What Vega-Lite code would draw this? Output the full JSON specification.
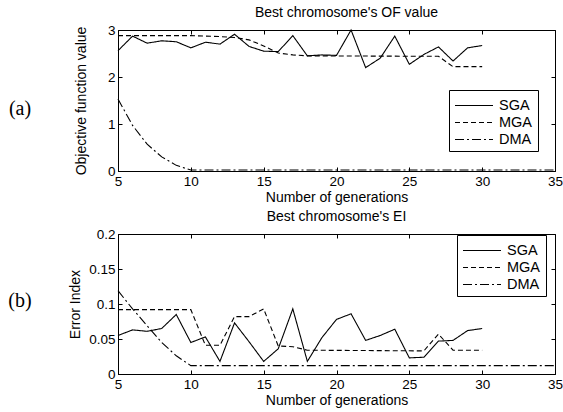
{
  "$schema": "https://vega.github.io/schema/vega-lite/v6.json",
  "padding": 5,
  "config": {
    "font": "Liberation Sans",
    "view": {"stroke": "black", "strokeWidth": 1},
    "axis": {
      "grid": false,
      "domainColor": "black",
      "tickColor": "black",
      "labelColor": "black",
      "titleColor": "black",
      "labelFont": "Liberation Sans",
      "titleFont": "Liberation Sans",
      "labelFontSize": 13.5,
      "titleFontSize": 14,
      "titleFontWeight": "normal",
      "tickSize": -4,
      "labelPadding": 7,
      "labelFlush": false
    },
    "title": {"font": "Liberation Sans", "fontSize": 14, "fontWeight": "normal", "color": "black", "frame": "group", "offset": 3},
    "legend": {
      "orient": "none",
      "symbolType": "M-1,0H3",
      "symbolSize": 361,
      "symbolStrokeWidth": 1.1,
      "symbolStrokeColor": "black",
      "symbolFillColor": "transparent",
      "labelFont": "Liberation Sans",
      "labelFontSize": 14.5,
      "labelColor": "black",
      "labelOffset": 24,
      "strokeColor": "black",
      "fillColor": "white",
      "padding": 5,
      "rowPadding": -2
    }
  },
  "datasets": {
    "of": [
      {"gen": 5, "method": "SGA", "value": 2.56}, {"gen": 6, "method": "SGA", "value": 2.87}, {"gen": 7, "method": "SGA", "value": 2.72},
      {"gen": 8, "method": "SGA", "value": 2.77}, {"gen": 9, "method": "SGA", "value": 2.75}, {"gen": 10, "method": "SGA", "value": 2.62},
      {"gen": 11, "method": "SGA", "value": 2.74}, {"gen": 12, "method": "SGA", "value": 2.7}, {"gen": 13, "method": "SGA", "value": 2.91},
      {"gen": 14, "method": "SGA", "value": 2.65}, {"gen": 15, "method": "SGA", "value": 2.55}, {"gen": 16, "method": "SGA", "value": 2.54},
      {"gen": 17, "method": "SGA", "value": 2.88}, {"gen": 18, "method": "SGA", "value": 2.45}, {"gen": 19, "method": "SGA", "value": 2.47},
      {"gen": 20, "method": "SGA", "value": 2.46}, {"gen": 21, "method": "SGA", "value": 3.0}, {"gen": 22, "method": "SGA", "value": 2.2},
      {"gen": 23, "method": "SGA", "value": 2.4}, {"gen": 24, "method": "SGA", "value": 2.87}, {"gen": 25, "method": "SGA", "value": 2.27},
      {"gen": 26, "method": "SGA", "value": 2.48}, {"gen": 27, "method": "SGA", "value": 2.64}, {"gen": 28, "method": "SGA", "value": 2.34},
      {"gen": 29, "method": "SGA", "value": 2.62}, {"gen": 30, "method": "SGA", "value": 2.67},
      {"gen": 5, "method": "MGA", "value": 2.88}, {"gen": 10, "method": "MGA", "value": 2.88}, {"gen": 11, "method": "MGA", "value": 2.87},
      {"gen": 12, "method": "MGA", "value": 2.86}, {"gen": 13, "method": "MGA", "value": 2.84}, {"gen": 14, "method": "MGA", "value": 2.79},
      {"gen": 15, "method": "MGA", "value": 2.66}, {"gen": 16, "method": "MGA", "value": 2.51}, {"gen": 17, "method": "MGA", "value": 2.47},
      {"gen": 18, "method": "MGA", "value": 2.45}, {"gen": 27, "method": "MGA", "value": 2.44}, {"gen": 28, "method": "MGA", "value": 2.22},
      {"gen": 29, "method": "MGA", "value": 2.22}, {"gen": 30, "method": "MGA", "value": 2.22},
      {"gen": 5, "method": "DMA", "value": 1.53}, {"gen": 6, "method": "DMA", "value": 0.97}, {"gen": 7, "method": "DMA", "value": 0.57},
      {"gen": 8, "method": "DMA", "value": 0.3}, {"gen": 9, "method": "DMA", "value": 0.12}, {"gen": 10, "method": "DMA", "value": 0.02},
      {"gen": 15, "method": "DMA", "value": 0.02}, {"gen": 20, "method": "DMA", "value": 0.02}, {"gen": 25, "method": "DMA", "value": 0.02},
      {"gen": 30, "method": "DMA", "value": 0.02}, {"gen": 35, "method": "DMA", "value": 0.02}
    ],
    "ei": [
      {"gen": 5, "method": "SGA", "value": 0.055}, {"gen": 6, "method": "SGA", "value": 0.063}, {"gen": 7, "method": "SGA", "value": 0.061},
      {"gen": 8, "method": "SGA", "value": 0.065}, {"gen": 9, "method": "SGA", "value": 0.085}, {"gen": 10, "method": "SGA", "value": 0.045},
      {"gen": 11, "method": "SGA", "value": 0.053}, {"gen": 12, "method": "SGA", "value": 0.018}, {"gen": 13, "method": "SGA", "value": 0.073},
      {"gen": 14, "method": "SGA", "value": 0.046}, {"gen": 15, "method": "SGA", "value": 0.018}, {"gen": 16, "method": "SGA", "value": 0.036},
      {"gen": 17, "method": "SGA", "value": 0.093}, {"gen": 18, "method": "SGA", "value": 0.018}, {"gen": 19, "method": "SGA", "value": 0.052},
      {"gen": 20, "method": "SGA", "value": 0.078}, {"gen": 21, "method": "SGA", "value": 0.086}, {"gen": 22, "method": "SGA", "value": 0.048},
      {"gen": 23, "method": "SGA", "value": 0.055}, {"gen": 24, "method": "SGA", "value": 0.064}, {"gen": 25, "method": "SGA", "value": 0.023},
      {"gen": 26, "method": "SGA", "value": 0.024}, {"gen": 27, "method": "SGA", "value": 0.047}, {"gen": 28, "method": "SGA", "value": 0.048},
      {"gen": 29, "method": "SGA", "value": 0.062}, {"gen": 30, "method": "SGA", "value": 0.065},
      {"gen": 5, "method": "MGA", "value": 0.092}, {"gen": 10, "method": "MGA", "value": 0.092}, {"gen": 11, "method": "MGA", "value": 0.041},
      {"gen": 12, "method": "MGA", "value": 0.041}, {"gen": 13, "method": "MGA", "value": 0.082}, {"gen": 14, "method": "MGA", "value": 0.082},
      {"gen": 15, "method": "MGA", "value": 0.093}, {"gen": 16, "method": "MGA", "value": 0.04}, {"gen": 17, "method": "MGA", "value": 0.039},
      {"gen": 18, "method": "MGA", "value": 0.034}, {"gen": 26, "method": "MGA", "value": 0.033}, {"gen": 27, "method": "MGA", "value": 0.057},
      {"gen": 28, "method": "MGA", "value": 0.034}, {"gen": 29, "method": "MGA", "value": 0.034}, {"gen": 30, "method": "MGA", "value": 0.034},
      {"gen": 5, "method": "DMA", "value": 0.119}, {"gen": 6, "method": "DMA", "value": 0.093}, {"gen": 7, "method": "DMA", "value": 0.069},
      {"gen": 8, "method": "DMA", "value": 0.045}, {"gen": 9, "method": "DMA", "value": 0.026}, {"gen": 10, "method": "DMA", "value": 0.012},
      {"gen": 15, "method": "DMA", "value": 0.012}, {"gen": 20, "method": "DMA", "value": 0.012}, {"gen": 25, "method": "DMA", "value": 0.012},
      {"gen": 30, "method": "DMA", "value": 0.012}, {"gen": 35, "method": "DMA", "value": 0.012}
    ]
  },
  "columns": 2,
  "align": "each",
  "spacing": {"row": 4, "column": 33},
  "resolve": {"scale": {"strokeDash": "independent"}, "legend": {"strokeDash": "independent"}},
  "concat": [
    {
      "width": 30, "height": 141,
      "view": {"stroke": null},
      "data": {"values": [{"label": "(a)"}]},
      "mark": {"type": "text", "font": "Liberation Serif", "fontSize": 20, "color": "black", "dy": 8},
      "encoding": {"text": {"field": "label"}}
    },
    {
      "width": 437, "height": 141,
      "title": {"text": "Best chromosome's OF value", "dx": 10},
      "data": {"name": "of"},
      "resolve": {"axis": {"x": "independent", "y": "independent"}},
      "layer": [
        {
          "mark": {"type": "line", "color": "black", "strokeWidth": 1.1},
          "encoding": {
            "x": {"field": "gen", "type": "quantitative", "scale": {"domain": [5, 35], "nice": false},
                  "axis": {"orient": "bottom", "values": [5, 10, 15, 20, 25, 30, 35], "title": "Number of generations", "titlePadding": 3}},
            "y": {"field": "value", "type": "quantitative", "scale": {"domain": [0, 3], "nice": false},
                  "axis": {"orient": "left", "values": [0, 1, 2, 3], "title": "Objective function value", "titlePadding": 19}},
            "strokeDash": {"field": "method", "type": "nominal",
                           "scale": {"domain": ["SGA", "MGA", "DMA"], "range": [[1, 0], [5, 3], [9, 3, 2, 3]]},
                           "legend": {"title": null, "legendX": 331, "legendY": 60}}
          }
        },
        {
          "mark": {"type": "line", "opacity": 0},
          "encoding": {
            "x": {"field": "gen", "type": "quantitative",
                  "axis": {"orient": "top", "values": [5, 10, 15, 20, 25, 30, 35], "labels": false, "title": null, "domain": false}},
            "y": {"field": "value", "type": "quantitative",
                  "axis": {"orient": "right", "values": [0, 1, 2, 3], "labels": false, "title": null, "domain": false}},
            "detail": {"field": "method"}
          }
        }
      ]
    },
    {
      "width": 30, "height": 140,
      "view": {"stroke": null},
      "data": {"values": [{"label": "(b)"}]},
      "mark": {"type": "text", "font": "Liberation Serif", "fontSize": 20, "color": "black", "dy": -3},
      "encoding": {"text": {"field": "label"}}
    },
    {
      "width": 437, "height": 140,
      "title": "Best chromosome's EI",
      "data": {"name": "ei"},
      "resolve": {"axis": {"x": "independent", "y": "independent"}},
      "layer": [
        {
          "mark": {"type": "line", "color": "black", "strokeWidth": 1.1},
          "encoding": {
            "x": {"field": "gen", "type": "quantitative", "scale": {"domain": [5, 35], "nice": false},
                  "axis": {"orient": "bottom", "values": [5, 10, 15, 20, 25, 30, 35], "title": "Number of generations", "titlePadding": 3}},
            "y": {"field": "value", "type": "quantitative", "scale": {"domain": [0, 0.2], "nice": false},
                  "axis": {"orient": "left", "values": [0, 0.05, 0.1, 0.15, 0.2], "format": "~g", "title": "Error Index", "titlePadding": 6}},
            "strokeDash": {"field": "method", "type": "nominal",
                           "scale": {"domain": ["SGA", "MGA", "DMA"], "range": [[1, 0], [5, 3], [9, 3, 2, 3]]},
                           "legend": {"title": null, "legendX": 339, "legendY": 1}}
          }
        },
        {
          "mark": {"type": "line", "opacity": 0},
          "encoding": {
            "x": {"field": "gen", "type": "quantitative",
                  "axis": {"orient": "top", "values": [5, 10, 15, 20, 25, 30, 35], "labels": false, "title": null, "domain": false}},
            "y": {"field": "value", "type": "quantitative",
                  "axis": {"orient": "right", "values": [0, 0.05, 0.1, 0.15, 0.2], "labels": false, "title": null, "domain": false}},
            "detail": {"field": "method"}
          }
        }
      ]
    }
  ]
}
